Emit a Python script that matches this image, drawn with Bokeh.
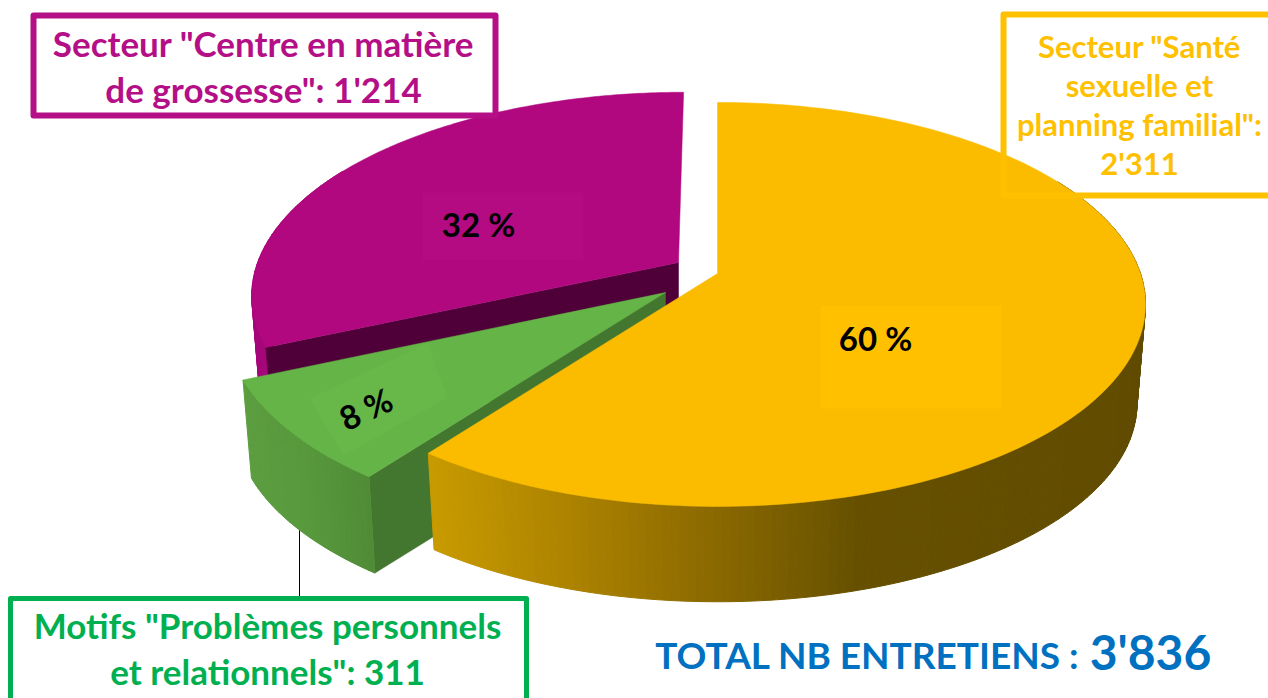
import math
from bokeh.plotting import figure
from bokeh.models import Range1d
from bokeh.core.properties import value
from bokeh.embed import file_html
from bokeh.resources import INLINE

# ---- data ----
categories = ['Secteur "Santé sexuelle et planning familial"', 'Motifs "Problèmes personnels et relationnels"', 'Secteur "Centre en matière de grossesse"']
counts = [2311, 311, 1214]
percent_labels = ["60 %", "8 %", "32 %"]
total_label = "TOTAL NB ENTRETIENS :"
total_value = "3'836"
label_purple = ['Secteur "Centre en matière', "de grossesse\": 1'214"]
label_yellow = ['Secteur "Santé', "sexuelle et", 'planning familial":', "2'311"]
label_green = ['Motifs "Problèmes personnels', 'et relationnels": 311']

# ---- styles / layout (page pixels) ----
YEL, YEL_HI = "#FBBC00", "#FFC000"
PUR, PUR_HI, PUR_DK, PUR_WALL = "#B1087F", "#B40A82", "#4F0038", "#A5077A"
GRN, GRN_HI, GRN_DK = "#65B447", "#68B849", "#43762E"
BOX_PUR, BOX_YEL, BOX_GRN, BLUE = "#B40F86", "#FFC000", "#00B050", "#0070C0"
FONT = value("Lato")
RX, RY, PERSP = 428.0, 202.0, 0.153
BOTTOM_SCALE, DEPTH = 0.98, 100.0

p = figure(width=1268, height=698, output_backend="svg", toolbar_location=None,
           x_range=Range1d(0, 1268), y_range=Range1d(698, 0), min_border=0)
p.axis.visible = False
p.grid.visible = False
p.outline_line_color = None
p.background_fill_color = "white"


def rim(t_deg, apex, scale=1.0, shear=0.0):
    """Projected rim point at pie angle t (clockwise from 12 o'clock), relative to a slice apex."""
    t = math.radians(t_deg)
    u, v = math.sin(t), math.cos(t)
    d = 1 + PERSP * v
    U = u * math.sqrt(1 - PERSP ** 2) / d
    V = (v + PERSP) / d
    x = RX * U * scale
    y = -RY * (V - PERSP) * scale
    return x - shear * y, y


def top_pt(t, apex, scale=1.0, shear=0.0):
    x, y = rim(t, apex, scale, shear)
    return apex[0] + x, apex[1] + y


def bot_pt(t, apex, scale=1.0, shear=0.0):
    x, y = rim(t, apex, scale, shear)
    return apex[0] + x * BOTTOM_SCALE, apex[1] + y * BOTTOM_SCALE + DEPTH


def arc(t0, t1, n=90):
    return [t0 + (t1 - t0) * i / n for i in range(n + 1)]


def lerp_color(stops, x):
    if x <= stops[0][0]:
        c = stops[0][1]
    elif x >= stops[-1][0]:
        c = stops[-1][1]
    else:
        for (a, ca), (b, cb) in zip(stops, stops[1:]):
            if a <= x <= b:
                f = (x - a) / (b - a)
                c = tuple(ca[i] + (cb[i] - ca[i]) * f for i in range(3))
                break
    return "#%02x%02x%02x" % tuple(int(round(k)) for k in c)


def wall(t0, t1, apex, scale, shear, color_for, n):
    ts = arc(t0, t1, n)
    xs, ys, cs = [], [], []
    for a, b in zip(ts, ts[1:]):
        pa, pb = top_pt(a, apex, scale, shear), top_pt(b, apex, scale, shear)
        qa, qb = bot_pt(a, apex, scale, shear), bot_pt(b, apex, scale, shear)
        xs.append([pa[0], pb[0], qb[0], qa[0]])
        ys.append([pa[1], pb[1], qb[1], qa[1]])
        cs.append(color_for((pa[0] + pb[0]) / 2))
    p.patches(xs, ys, fill_color=cs, line_color=cs, line_width=1)


def top_face(t0, t1, apex, scale, shear, color):
    pts = [top_pt(t, apex, scale, shear) for t in arc(t0, t1, 180)]
    p.patch([apex[0]] + [q[0] for q in pts], [apex[1]] + [q[1] for q in pts],
            fill_color=color, line_color=color, line_width=0.5)


def radial_wall(t, apex, scale, shear, color):
    a, b = top_pt(t, apex, scale, shear), bot_pt(t, apex, scale, shear)
    x0, y0 = apex[0], apex[1]
    p.patch([x0, a[0], b[0], x0], [y0, a[1], b[1], y0 + DEPTH],
            fill_color=color, line_color=color, line_width=0.5)


total = sum(counts)
a_y = 360.0 * counts[0] / total
a_g = a_y + 360.0 * counts[1] / total

APEX_Y, APEX_G, APEX_P = (717.0, 273.0), (665.0, 292.0), (678.0, 262.0)
S_G, S_P, SHEAR_P = 1.025, 0.995, 0.03

# leader line of the green label
p.line([299, 299], [500, 597], line_color="black", line_width=1)

# purple slice (back)
wall(a_g, 300.0, APEX_P, S_P, SHEAR_P, lambda x: PUR_WALL, 30)
radial_wall(a_g, APEX_P, S_P, SHEAR_P, PUR_DK)
top_face(a_g, 360.0, APEX_P, S_P, SHEAR_P, PUR)
p.quad(left=[422], right=[583], top=[192], bottom=[260], fill_color=PUR_HI, line_color=None)

# green slice
radial_wall(a_y, APEX_G, S_G, 0.0, GRN_DK)
green_stops = [(244, (0x5B, 0x9D, 0x3F)), (300, (0x58, 0x99, 0x3D)), (365, (0x50, 0x8C, 0x36))]
wall(a_y, a_g, APEX_G, S_G, 0.0, lambda x: lerp_color(green_stops, x), 30)
top_face(a_y, a_g, APEX_G, S_G, 0.0, GRN)
p.patch([309, 427, 447, 343], [398, 343, 397, 455], fill_color=GRN_HI, line_color=None)

# yellow slice (front)
yellow_stops = [(430, (0xC8, 0x9A, 0x00)), (560, (0xAE, 0x84, 0x00)), (700, (0x8E, 0x6B, 0x00)),
                (860, (0x66, 0x50, 0x00)), (1150, (0x60, 0x4B, 0x00))]
wall(60.0, a_y, APEX_Y, 1.0, 0.0, lambda x: lerp_color(yellow_stops, x), 160)
top_face(0.0, a_y, APEX_Y, 1.0, 0.0, YEL)
p.quad(left=[820], right=[1001], top=[305], bottom=[408], fill_color=YEL_HI, line_color=None)

# label boxes
p.quad(left=[33], right=[495], top=[15], bottom=[115], fill_color="white",
       line_color=BOX_PUR, line_width=6, line_join="round")
p.quad(left=[1003], right=[1300], top=[14], bottom=[195], fill_color=None,
       line_color=BOX_YEL, line_width=6, line_join="round")
p.quad(left=[10], right=[526], top=[598], bottom=[730], fill_color="white",
       line_color=BOX_GRN, line_width=5, line_join="round")


def txt(x, y, s, color, size, angle=0.0):
    p.text([x], [y], text=[s], text_color=color, text_font=FONT, text_font_style="bold",
           text_font_size=size, text_align="center", text_baseline="middle", angle=angle,
           angle_units="deg")


for y, s in zip([42, 88], label_purple):
    txt(263, y, s, BOX_PUR, "35px")
for y, s in zip([45, 84, 123, 162], label_yellow):
    txt(1139, y, s, BOX_YEL, "31px")
for y, s in zip([624, 670], label_green):
    txt(267, y, s, BOX_GRN, "35px")

txt(875, 337, percent_labels[0], "black", "33px")
txt(365, 408, percent_labels[1], "black", "33px", 25)
txt(478, 223, percent_labels[2], "black", "33px")

txt(867, 654, total_label, BLUE, "37px")
txt(1150, 651, total_value, BLUE, "48px")

open("out.html", "w").write(file_html(p, INLINE))
